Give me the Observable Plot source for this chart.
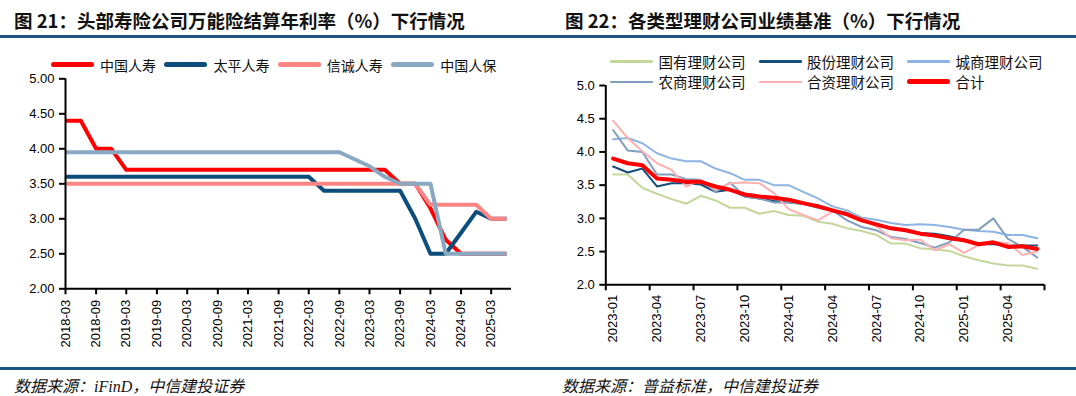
<!DOCTYPE html>
<html>
<head>
<meta charset="utf-8">
<script src="https://cdn.jsdelivr.net/npm/d3@7"></script>
<script src="https://cdn.jsdelivr.net/npm/@observablehq/plot@0.6"></script>
<style>
html, body { margin: 0; padding: 0; background: #fff; }
#root { position: relative; width: 1076px; height: 396px; overflow: hidden; background: #fff; font-family: "Noto Sans CJK SC", sans-serif; }
.title { position: absolute; top: 8px; height: 24px; line-height: 24px; font-size: 18.5px; font-weight: 700; color: #111; white-space: nowrap; }
.rule { position: absolute; left: 0; width: 1076px; height: 3px; background: #1D5381; }
.caption { position: absolute; top: 377px; height: 17px; line-height: 17px; font-size: 16px; font-style: italic; color: #111; white-space: nowrap; }
.chart { position: absolute; }
.leg { position: absolute; height: 20px; display: flex; align-items: center; white-space: nowrap; color: #111; }
.sw { display: inline-block; border-radius: 3px; }
</style>
</head>
<body>
<div id="root">
  <div class="title" style="left:14px;">图 21：头部寿险公司万能险结算年利率（%）下行情况</div>
  <div class="title" style="left:565px;">图 22：各类型理财公司业绩基准（%）下行情况</div>
  <div class="rule" style="top:34.5px;"></div>
  <div class="rule" style="top:367px;"></div>
  <div class="caption" style="left:14px;">数据来源：<span style="font-family:'Liberation Serif',serif;">iFinD</span>，中信建投证券</div>
  <div class="caption" style="left:562px;">数据来源：普益标准，中信建投证券</div>
  <div id="left" class="chart" style="left:0px;top:70px;width:530px;"></div>
  <div id="right" class="chart" style="left:540px;top:77px;width:520px;"></div>
</div>
<script>
// ---------- Left chart data (quarterly) ----------
const quarters = ["2018-03","2018-06","2018-09","2018-12","2019-03","2019-06","2019-09","2019-12",
  "2020-03","2020-06","2020-09","2020-12","2021-03","2021-06","2021-09","2021-12",
  "2022-03","2022-06","2022-09","2022-12","2023-03","2023-06","2023-09","2023-12",
  "2024-03","2024-06","2024-09","2024-12","2025-03","2025-06"];
const leftNames = ["中国人寿", "太平人寿", "信诚人寿", "中国人保"];
const chinaLife = [4.4,4.4,4.0,4.0,3.7,3.7,3.7,3.7,3.7,3.7,3.7,3.7,3.7,3.7,3.7,3.7,3.7,3.7,3.7,3.7,3.7,3.7,3.5,3.5,3.15,2.7,2.5,2.5,2.5,2.5];
const taipingLife = [3.6,3.6,3.6,3.6,3.6,3.6,3.6,3.6,3.6,3.6,3.6,3.6,3.6,3.6,3.6,3.6,3.6,3.4,3.4,3.4,3.4,3.4,3.4,3.0,2.5,2.5,2.8,3.1,3.0,3.0];
const citicPruLife = [3.5,3.5,3.5,3.5,3.5,3.5,3.5,3.5,3.5,3.5,3.5,3.5,3.5,3.5,3.5,3.5,3.5,3.5,3.5,3.5,3.5,3.5,3.5,3.5,3.2,3.2,3.2,3.2,3.0,3.0];
const piccLife = [3.95,3.95,3.95,3.95,3.95,3.95,3.95,3.95,3.95,3.95,3.95,3.95,3.95,3.95,3.95,3.95,3.95,3.95,3.95,3.85,3.75,3.6,3.5,3.5,3.5,2.5,2.5,2.5,2.5,2.5];
const leftColors = ["#FF0000", "#0C4D7B", "#FF8585", "#89A8C2"];
const leftXTicks = ["2018-03","2018-09","2019-03","2019-09","2020-03","2020-09","2021-03","2021-09",
  "2022-03","2022-09","2023-03","2023-09","2024-03","2024-09","2025-03"];
const leftYTicks = [2.0, 2.5, 3.0, 3.5, 4.0, 4.5, 5.0];

// ---------- Right chart data (monthly) ----------
const months = ["2023-01","2023-02","2023-03","2023-04","2023-05","2023-06","2023-07","2023-08","2023-09","2023-10","2023-11","2023-12",
  "2024-01","2024-02","2024-03","2024-04","2024-05","2024-06","2024-07","2024-08","2024-09","2024-10","2024-11","2024-12",
  "2025-01","2025-02","2025-03","2025-04","2025-05","2025-06"];
const rightNames = ["国有理财公司", "股份理财公司", "城商理财公司", "农商理财公司", "合资理财公司", "合计"];
const stateOwned = [3.66,3.66,3.46,3.37,3.29,3.22,3.34,3.27,3.16,3.16,3.07,3.11,3.05,3.04,2.95,2.92,2.85,2.81,2.75,2.62,2.62,2.55,2.53,2.51,2.43,2.37,2.32,2.29,2.29,2.24];
const jointStock = [3.78,3.69,3.75,3.48,3.53,3.53,3.51,3.40,3.43,3.33,3.30,3.26,3.24,3.22,3.20,3.13,3.08,2.98,2.90,2.85,2.83,2.78,2.77,2.73,2.68,2.61,2.61,2.59,2.59,2.59];
const cityComm = [4.19,4.21,4.13,3.98,3.90,3.86,3.86,3.75,3.68,3.58,3.58,3.50,3.50,3.40,3.30,3.18,3.12,3.01,2.98,2.93,2.90,2.91,2.90,2.87,2.83,2.81,2.80,2.75,2.75,2.70];
const ruralComm = [4.33,4.02,4.00,3.66,3.66,3.59,3.58,3.40,3.54,3.33,3.30,3.24,3.24,3.22,3.16,3.12,2.97,2.87,2.82,2.72,2.69,2.63,2.56,2.64,2.83,2.83,3.00,2.69,2.57,2.41];
const jointVenture = [4.47,4.21,4.01,3.83,3.73,3.48,3.58,3.43,3.53,3.54,3.53,3.38,3.14,3.05,2.97,3.10,3.07,2.98,2.88,2.70,2.67,2.68,2.52,2.61,2.48,2.60,2.64,2.63,2.45,2.50];
const totalAll = [3.90,3.83,3.80,3.60,3.58,3.55,3.55,3.48,3.43,3.36,3.33,3.31,3.28,3.23,3.18,3.12,3.06,2.97,2.91,2.85,2.82,2.77,2.74,2.70,2.67,2.61,2.64,2.57,2.58,2.54];
const rightColors = ["#C4D79B", "#164E7C", "#8DB4E2", "#809FBE", "#FFB0B0", "#FF0000"];
const rightWidths = [2, 2, 2, 2, 2, 4];
const rightLabelIdx = [0, 3, 6, 9, 12, 15, 18, 21, 24, 27];
const rightYTicks = [2.0, 2.5, 3.0, 3.5, 4.0, 4.5, 5.0];

// ---------- Build ----------
const parseMonth = d3.utcParse("%Y-%m");
const fmtMonth = d3.utcFormat("%Y-%m");
const axisFont = { background: "transparent", overflow: "visible", fontFamily: "'Liberation Sans', Arial, sans-serif", fontSize: "13px", color: "#000" };

const leftValues = [chinaLife, taipingLife, citicPruLife, piccLife];
const leftStart = parseMonth("2018-03");
const leftEnd = parseMonth("2025-07");
const leftLines = leftValues.map((vals, s) =>
  Plot.line(quarters.map((q, i) => ({ date: parseMonth(q), value: vals[i] })),
    { x: "date", y: "value", stroke: leftColors[s], strokeWidth: 4, strokeLinecap: "butt", strokeLinejoin: "round" }));

const leftPlot = Plot.plot({
  width: 530, height: 290,
  marginLeft: 65, marginRight: 19, marginTop: 8.3, marginBottom: 71.7,
  style: axisFont,
  x: { type: "utc", domain: [leftStart, leftEnd] },
  y: { domain: [2, 5] },
  marks: [
    Plot.axisY({ ticks: leftYTicks, tickFormat: d => d.toFixed(2), tickSize: 6, tickPadding: 5, strokeWidth: 2, stroke: "#000", label: null }),
    Plot.axisX({ ticks: leftXTicks.map(parseMonth), tickFormat: fmtMonth, tickRotate: -90, tickSize: 6, tickPadding: 5, strokeWidth: 2, stroke: "#000", label: null }),
    ...leftLines,
    Plot.ruleY([2], { stroke: "#000", strokeWidth: 2 }),
    Plot.ruleX([leftStart], { stroke: "#000", strokeWidth: 2 })
  ]
});
document.getElementById("left").appendChild(leftPlot);

const rightValues = [stateOwned, jointStock, cityComm, ruralComm, jointVenture, totalAll];
const rightLines = rightValues.map((vals, s) =>
  Plot.line(months.map((m, i) => ({ i, value: vals[i] })),
    { x: "i", y: "value", stroke: rightColors[s], strokeWidth: rightWidths[s], strokeLinejoin: "round" }));
const boundaries = d3.range(0, months.length + 1, 3).map(k => k - 0.5);

const rightPlot = Plot.plot({
  width: 520, height: 283,
  marginLeft: 65.3, marginRight: 16, marginTop: 8, marginBottom: 75.7,
  style: axisFont,
  x: { type: "linear", domain: [-0.5, months.length - 0.5] },
  y: { domain: [2, 5] },
  marks: [
    Plot.axisY({ ticks: rightYTicks, tickFormat: d => d.toFixed(1), tickSize: 6, tickPadding: 5, strokeWidth: 2, stroke: "#000", label: null }),
    Plot.axisX({ ticks: boundaries, tickFormat: () => "", tickSize: 6, strokeWidth: 2, stroke: "#000", label: null }),
    Plot.axisX({ ticks: rightLabelIdx, tickFormat: i => months[i], tickRotate: -90, tickSize: 0, tickPadding: 10, label: null }),
    ...rightLines,
    Plot.ruleY([2], { stroke: "#000", strokeWidth: 2 }),
    Plot.ruleX([-0.5], { stroke: "#000", strokeWidth: 2 })
  ]
});
document.getElementById("right").appendChild(rightPlot);

// ---------- Legends (HTML) ----------
const root = document.getElementById("root");
function addLegend(x, cy, name, color, swW, swH, textGap, fontSize) {
  const d = document.createElement("div");
  d.className = "leg";
  d.style.left = x + "px";
  d.style.top = (cy - 10) + "px";
  d.style.fontSize = fontSize + "px";
  const sw = document.createElement("span");
  sw.className = "sw";
  sw.style.width = swW + "px";
  sw.style.height = swH + "px";
  sw.style.background = color;
  sw.style.borderRadius = (swH / 2) + "px";
  const t = document.createElement("span");
  t.textContent = name;
  t.style.marginLeft = textGap + "px";
  d.appendChild(sw); d.appendChild(t);
  root.appendChild(d);
}
leftNames.forEach((n, k) => addLegend(51 + 113.4 * k, 64.5, n, leftColors[k], 43, 5, 6, 14));
rightNames.forEach((n, k) => {
  const col = k % 3, row = Math.floor(k / 3);
  addLegend(610 + 148.5 * col, 61.3 + 20.5 * row, n, rightColors[k], 43, rightWidths[k] === 4 ? 5 : 2.5, 5.5, 14.5);
});
</script>
</body>
</html>
